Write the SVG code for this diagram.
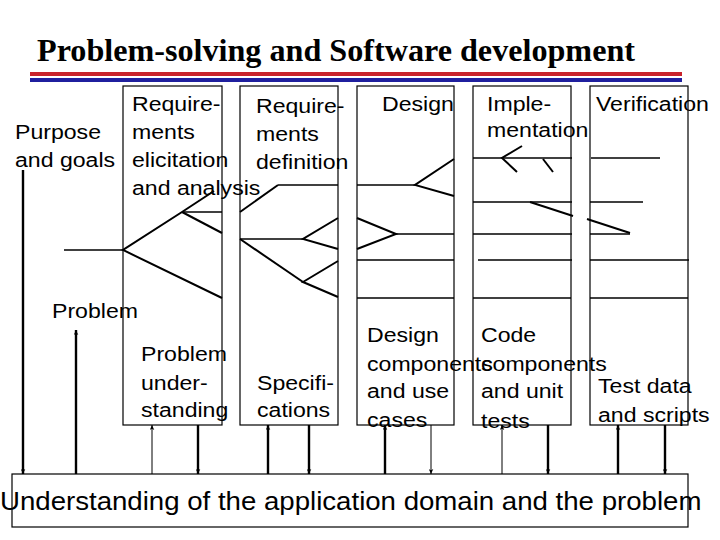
<svg xmlns="http://www.w3.org/2000/svg" width="720" height="540" viewBox="0 0 720 540">
<style>
.t{font-family:"Liberation Sans",Arial,sans-serif;font-size:21px;fill:#000}
.big{font-family:"Liberation Sans",Arial,sans-serif;font-size:25px;fill:#000}
.title{font-family:"Liberation Serif","Times New Roman",serif;font-size:32px;font-weight:bold;fill:#000}
.box{fill:none;stroke:#000;stroke-width:1.2}
.h{stroke:#000;stroke-width:1.3;fill:none}
.d{stroke:#000;stroke-width:2;fill:none}
.thick{stroke:#000;stroke-width:2.4;fill:none}
.thin{stroke:#000;stroke-width:1;fill:none}
</style>
<defs>
<marker id="ah" viewBox="0 0 10 10" refX="10" refY="5" markerWidth="9" markerHeight="5" markerUnits="userSpaceOnUse" orient="auto">
<path d="M0,0.5 L10,5 L0,9.5 L2.5,5 z" fill="#000"/>
</marker>
</defs>
<rect width="720" height="540" fill="#fff"/>
<g id="title">
<text class="title" x="37" y="61" textLength="598" lengthAdjust="spacingAndGlyphs">Problem-solving and Software development</text>
<line x1="30" y1="74" x2="682" y2="74" stroke="#c8232c" stroke-width="4"/>
<line x1="30" y1="80" x2="682" y2="80" stroke="#1f1f9e" stroke-width="4"/>
</g>
<g id="purpose">
<text class="t" transform="matrix(1.1,0,0,1,15,139)">Purpose</text>
<text class="t" transform="matrix(1.1,0,0,1,15,167)">and goals</text>
</g>
<g id="problem">
<text class="t" transform="matrix(1.1,0,0,1,52,318)">Problem</text>
</g>
<g id="req-elicitation">
<rect class="box" x="123" y="86" width="99" height="339"/>
<text class="t" transform="matrix(1.1,0,0,1,132,111)">Require-</text>
<text class="t" transform="matrix(1.1,0,0,1,132,139)">ments</text>
<text class="t" transform="matrix(1.1,0,0,1,132,167)">elicitation</text>
<text class="t" transform="matrix(1.1,0,0,1,132,195)">and analysis</text>
<text class="t" transform="matrix(1.1,0,0,1,141,361)">Problem</text>
<text class="t" transform="matrix(1.1,0,0,1,141,390)">under-</text>
<text class="t" transform="matrix(1.1,0,0,1,141,417)">standing</text>
</g>
<g id="req-definition">
<rect class="box" x="240" y="86" width="98" height="339"/>
<text class="t" transform="matrix(1.1,0,0,1,256,113)">Require-</text>
<text class="t" transform="matrix(1.1,0,0,1,256,141)">ments</text>
<text class="t" transform="matrix(1.1,0,0,1,256,169)">definition</text>
<text class="t" transform="matrix(1.1,0,0,1,257,390)">Specifi-</text>
<text class="t" transform="matrix(1.1,0,0,1,257,417)">cations</text>
</g>
<g id="design">
<rect class="box" x="357" y="86" width="97" height="339"/>
<text class="t" transform="matrix(1.1,0,0,1,382,111)">Design</text>
<text class="t" transform="matrix(1.1,0,0,1,367,342)">Design</text>
<text class="t" transform="matrix(1.1,0,0,1,367,371)">components</text>
<text class="t" transform="matrix(1.1,0,0,1,367,398)">and use</text>
<text class="t" transform="matrix(1.1,0,0,1,367,427)">cases</text>
</g>
<g id="implementation">
<rect class="box" x="473" y="86" width="98" height="339"/>
<text class="t" transform="matrix(1.1,0,0,1,487,111)">Imple-</text>
<text class="t" transform="matrix(1.1,0,0,1,487,137)">mentation</text>
<text class="t" transform="matrix(1.1,0,0,1,481,342)">Code</text>
<text class="t" transform="matrix(1.1,0,0,1,481,371)">components</text>
<text class="t" transform="matrix(1.1,0,0,1,481,398)">and unit</text>
<text class="t" transform="matrix(1.1,0,0,1,481,428)">tests</text>
</g>
<g id="verification">
<rect class="box" x="590" y="86" width="98" height="339"/>
<text class="t" transform="matrix(1.1,0,0,1,596,111)">Verification</text>
<text class="t" transform="matrix(1.1,0,0,1,598,393)">Test data</text>
<text class="t" transform="matrix(1.1,0,0,1,598,422)">and scripts</text>
</g>
<g id="domain">
<rect class="box" x="12" y="474" width="676" height="53"/>
<text class="big" transform="matrix(1.105,0,0,1,0,510)">Understanding of the application domain and the problem</text>
</g>
<g id="connectors">
<line class="h" x1="64" y1="250" x2="123" y2="250"/>
<polyline class="d" points="214,191 182,212 123,250 222,298"/>
<line class="h" x1="182" y1="212" x2="222" y2="212"/>
<line class="d" x1="182" y1="212" x2="222" y2="233"/>
<polyline class="d" points="240,212 278,185"/>
<line class="h" x1="278" y1="185" x2="338" y2="185"/>
<line class="h" x1="240" y1="239" x2="303" y2="239"/>
<polyline class="d" points="338,218 303,239 338,249"/>
<line class="d" x1="240" y1="239" x2="303" y2="282"/>
<polyline class="d" points="338,261 303,282 338,297"/>
<line class="h" x1="357" y1="185" x2="415" y2="185"/>
<polyline class="d" points="454,159 415,185 454,196"/>
<polyline class="d" points="357,218 396,234 357,249"/>
<line class="h" x1="396" y1="234" x2="454" y2="234"/>
<line class="h" x1="357" y1="260" x2="454" y2="260"/>
<line class="h" x1="357" y1="298" x2="454" y2="298"/>
<line class="h" x1="473" y1="158" x2="572" y2="158"/>
<polyline class="d" points="522,146 502,158 517,172"/>
<line class="d" x1="543" y1="159" x2="553" y2="172"/>
<line class="h" x1="473" y1="202" x2="572" y2="202"/>
<line class="d" x1="530" y1="202" x2="573" y2="216"/>
<line class="h" x1="473" y1="234" x2="572" y2="234"/>
<line class="h" x1="478" y1="260" x2="572" y2="260"/>
<line class="h" x1="473" y1="298" x2="571" y2="298"/>
<line class="h" x1="591" y1="158" x2="660" y2="158"/>
<line class="h" x1="590" y1="202" x2="643" y2="202"/>
<line class="d" x1="587" y1="219" x2="630" y2="233"/>
<line class="h" x1="590" y1="234" x2="630" y2="234" stroke-width="2.8"/>
<line class="h" x1="590" y1="260" x2="689" y2="260"/>
<line class="h" x1="590" y1="298" x2="688" y2="298"/>
<line class="thick" x1="23" y1="170" x2="23" y2="474" marker-end="url(#ah)"/>
<line class="thick" x1="76" y1="474" x2="76" y2="330" marker-end="url(#ah)"/>
<line class="thin" x1="152" y1="474" x2="152" y2="425" marker-end="url(#ah)"/>
<line class="thick" x1="198" y1="425" x2="198" y2="474" marker-end="url(#ah)"/>
<line class="thick" x1="268" y1="474" x2="268" y2="425" marker-end="url(#ah)"/>
<line class="thick" x1="309" y1="425" x2="309" y2="474" marker-end="url(#ah)"/>
<line class="thick" x1="385" y1="474" x2="385" y2="425" marker-end="url(#ah)"/>
<line class="thin" x1="431" y1="425" x2="431" y2="474" marker-end="url(#ah)"/>
<line class="thin" x1="502" y1="474" x2="502" y2="425" marker-end="url(#ah)"/>
<line class="thick" x1="548" y1="425" x2="548" y2="474" marker-end="url(#ah)"/>
<line class="thick" x1="618" y1="474" x2="618" y2="425" marker-end="url(#ah)"/>
<line class="thick" x1="665" y1="425" x2="665" y2="474" marker-end="url(#ah)"/>
</g>
</svg>
